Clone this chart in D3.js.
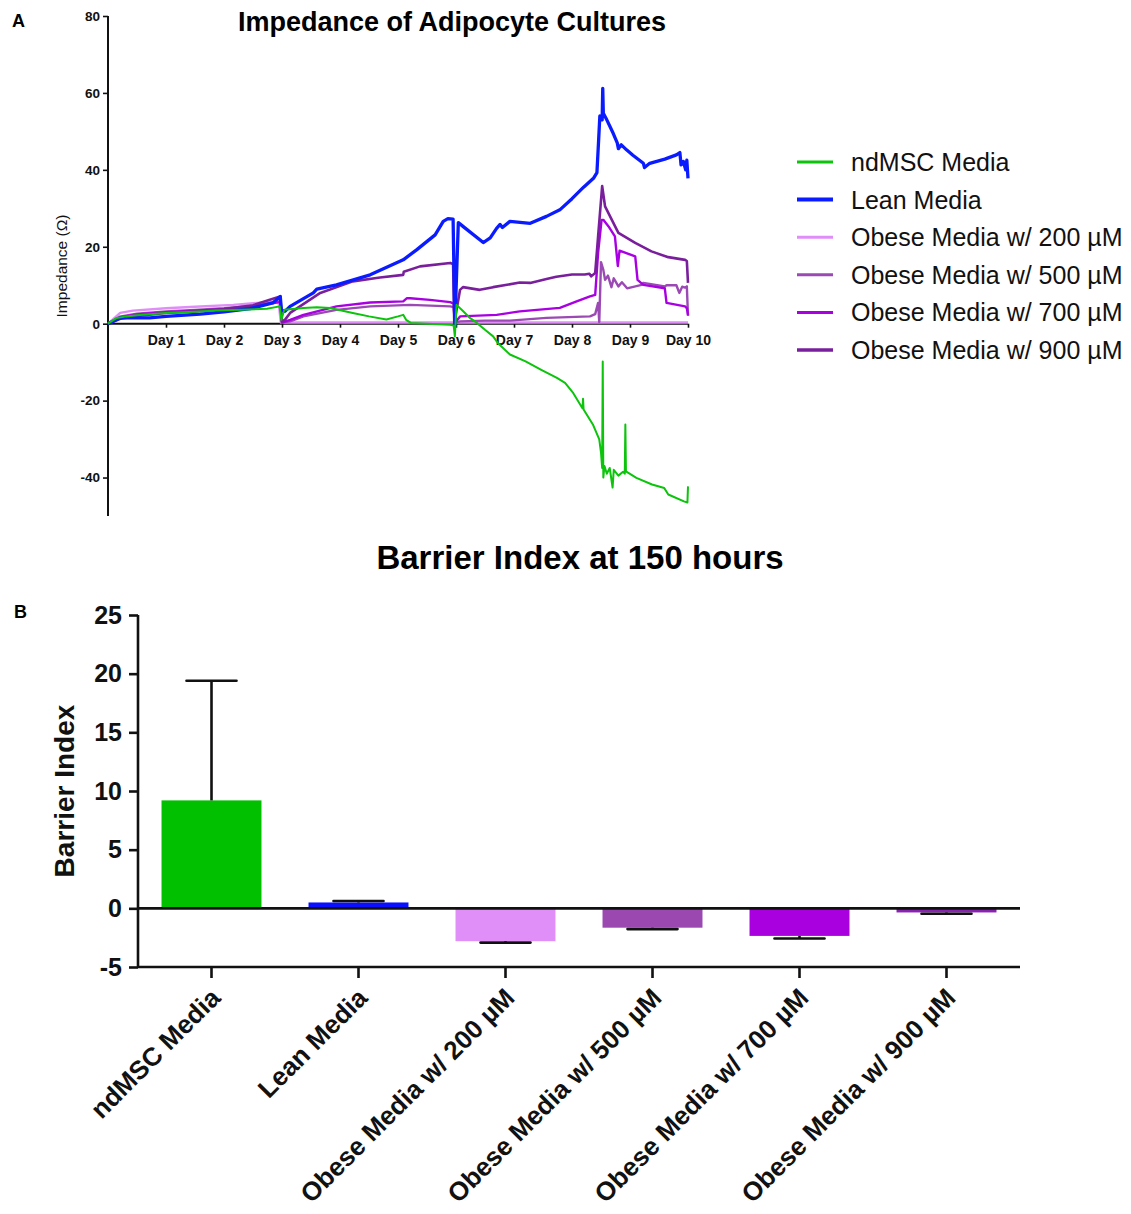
<!DOCTYPE html>
<html>
<head>
<meta charset="utf-8">
<script src="https://cdn.jsdelivr.net/npm/d3@7/dist/d3.min.js"></script>
<style>
  html, body { margin: 0; padding: 0; background: #fff; }
  svg { display: block; font-family: "Liberation Sans", Arial, Helvetica, sans-serif; }
</style>
</head>
<body>
<svg id="fig" width="1131" height="1214"></svg>
<script>
// ---------- Panel A: impedance time courses (day, ohms) ----------
const seriesNames = [
  "ndMSC Media", "Lean Media", "Obese Media w/ 200 µM",
  "Obese Media w/ 500 µM", "Obese Media w/ 700 µM", "Obese Media w/ 900 µM"
];
const seriesColors = ["#0bc40b", "#0a1cff", "#e08ef7", "#9b4ab3", "#a900e3", "#7a1f9c"];

const dayTicks = [1, 2, 3, 4, 5, 6, 7, 8, 9, 10];
const dayLabels = ["Day 1", "Day 2", "Day 3", "Day 4", "Day 5", "Day 6", "Day 7", "Day 8", "Day 9", "Day 10"];
const impedanceTicks = [-40, -20, 0, 20, 40, 60, 80];

const ndmscImpedance = [
  [0,0],[0.15,1.5],[0.32,1.9],[0.5,2.2],[1.0,2.8],[1.5,3.1],[1.86,3.4],[2.3,3.6],[2.74,3.9],[2.96,4.5],
  [2.99,1.0],[3.04,3.6],[3.37,4.1],[3.6,4.3],[3.83,4.1],[4.22,2.8],[4.5,1.9],[4.8,1.1],[5.0,1.9],[5.09,2.3],
  [5.14,1.0],[5.22,0.2],[5.5,0.0],[5.9,-0.3],[5.96,-0.5],[5.98,-3.3],[6.01,4.9],[6.12,3.3],[6.24,1.5],[6.36,0.2],
  [6.5,-1.6],[6.64,-3.3],[6.72,-5.0],[6.93,-8.0],[7.2,-9.8],[7.47,-12.0],[7.74,-14.1],[7.88,-15.4],[8.02,-18.0],
  [8.18,-22.0],[8.19,-19.5],[8.2,-22.3],[8.36,-26.2],[8.47,-30.1],[8.5,-33.5],[8.52,-37.5],[8.53,-9.8],[8.54,-40.0],
  [8.56,-37.0],[8.6,-39.0],[8.65,-37.5],[8.7,-42.6],[8.72,-38.0],[8.8,-39.5],[8.88,-38.5],[8.91,-39.0],[8.92,-26.2],
  [8.93,-38.4],[9.11,-40.1],[9.38,-41.8],[9.59,-42.7],[9.66,-44.4],[9.93,-46.2],[9.99,-46.5],[10,-42.3]
];
const leanImpedance = [
  [0,0],[0.21,1.5],[0.72,1.5],[1.0,1.9],[1.59,2.5],[2.0,3.1],[2.45,3.9],[2.84,5.4],[2.97,7.1],[2.99,3.6],
  [3.05,3.2],[3.14,4.5],[3.54,8.0],[3.6,9.0],[3.94,10.1],[4.52,12.7],[5.09,16.6],[5.32,19.2],[5.64,23.1],[5.78,26.6],
  [5.86,27.3],[5.95,27.2],[5.98,-0.7],[6.04,26.3],[6.12,25.3],[6.47,21.1],[6.59,22.3],[6.7,24.8],[6.76,25.8],[6.8,25.0],
  [6.93,26.6],[7.28,26.1],[7.56,27.9],[7.79,29.6],[8.0,32.5],[8.2,35.5],[8.37,37.8],[8.43,39.3],[8.46,48.0],[8.48,54.0],
  [8.52,53.0],[8.53,61.2],[8.54,54.7],[8.6,53.0],[8.71,49.5],[8.78,47.0],[8.8,45.5],[8.85,46.5],[8.94,45.2],[9.05,43.8],
  [9.23,41.7],[9.25,40.6],[9.34,41.7],[9.6,42.8],[9.8,43.9],[9.86,44.5],[9.88,41.3],[9.92,42.2],[9.96,40.0],[9.98,42.5],[10,37.8]
];
const obese200Impedance = [
  [0,0],[0.21,2.8],[0.43,3.4],[1.0,4.0],[1.5,4.4],[2.16,4.9],[2.74,5.6],[2.94,5.8],[2.98,0.3],[5.0,0.3],[8.0,0.3],[10,0.3]
];
const obese500Impedance = [
  [0,0],[0.2,1.8],[0.5,2.6],[1.0,3.2],[1.5,3.6],[2.0,4.0],[2.5,4.6],[2.8,5.4],[2.97,5.8],[3.0,0.3],
  [3.14,0.6],[3.37,1.9],[3.94,3.6],[4.52,4.5],[5.21,4.9],[5.9,4.5],[5.96,4.3],[5.98,0.2],[6.07,0.6],[6.5,0.8],
  [6.93,0.8],[7.56,1.5],[8.31,1.9],[8.4,2.5],[8.45,5.4],[8.47,0.4],[8.5,16.0],[8.54,14.0],[8.57,11.4],[8.62,12.5],
  [8.68,9.5],[8.72,11.8],[8.8,9.7],[8.86,10.8],[8.95,9.2],[9.2,10.1],[9.23,10.6],[9.6,9.7],[9.63,10.0],[9.8,10.0],
  [9.85,8.0],[9.9,9.6],[9.95,9.4],[9.98,9.7],[10,2.0]
];
const obese700Impedance = [
  [0,0],[0.2,1.6],[0.5,2.4],[1.0,3.0],[1.5,3.4],[2.0,3.8],[2.5,4.4],[2.8,5.2],[2.97,5.6],[3.0,0.3],
  [3.14,1.0],[3.37,2.3],[3.94,4.5],[4.52,5.5],[5.09,5.8],[5.15,6.6],[5.21,6.6],[5.55,6.2],[5.9,5.6],[5.96,5.2],
  [5.98,0.2],[6.07,1.9],[6.7,2.3],[7.1,3.2],[7.79,4.1],[8.08,5.8],[8.31,7.1],[8.4,7.5],[8.45,18.4],[8.51,27.0],
  [8.54,27.0],[8.63,25.3],[8.74,22.7],[8.79,15.0],[8.82,19.0],[9.09,17.5],[9.13,11.4],[9.23,10.1],[9.6,9.2],[9.63,5.4],
  [9.95,4.5],[9.98,4.0],[10,2.3]
];
const obese900Impedance = [
  [0,0],[0.2,1.2],[0.5,2.0],[1.0,2.8],[1.5,3.2],[2.0,3.8],[2.5,4.8],[2.79,6.2],[2.97,7.1],[3.0,0.5],
  [3.05,1.0],[3.14,2.8],[3.66,8.0],[4.22,11.0],[4.69,12.0],[5.09,12.7],[5.1,13.5],[5.38,14.9],[5.9,15.8],[5.95,15.5],
  [5.97,0.2],[6.07,8.8],[6.12,9.5],[6.41,8.8],[6.64,9.5],[7.1,10.7],[7.28,10.6],[7.56,11.6],[7.73,12.2],[8.0,12.8],
  [8.22,12.8],[8.3,13.0],[8.33,12.3],[8.4,13.2],[8.45,22.7],[8.51,33.9],[8.52,35.8],[8.57,30.5],[8.8,23.6],[9.09,21.0],
  [9.37,18.8],[9.66,17.3],[9.95,16.6],[9.98,16.3],[10,10.6]
];

// ---------- Panel B: barrier index at 150 h ----------
const barCategories = seriesNames;
const barMeans = [9.2, 0.5, -2.8, -1.65, -2.35, -0.35];
const barErrors = [10.2, 0.12, 0.12, 0.12, 0.22, 0.11];
const barColors = ["#00c000", "#0a10ff", "#df8ff7", "#9b48b1", "#a900e0", "#8a22b2"];
const barTicks = [-5, 0, 5, 10, 15, 20, 25];

const svg = d3.select("#fig");
const ink = "#111";
const plainNumber = d => String(d);   // hyphen-minus for negatives

// ======================= Panel A =======================
const xA = d3.scaleLinear().domain([0, 10]).range([108, 688]);
const yA = d3.scaleLinear().domain([-50, 80]).range([516, 16]);

svg.append("text").attr("x", 12).attr("y", 27).attr("font-size", 18).attr("font-weight", "bold").text("A");

svg.append("text")
  .attr("x", 452).attr("y", 31)
  .attr("text-anchor", "middle").attr("font-size", 27).attr("font-weight", "bold")
  .text("Impedance of Adipocyte Cultures");

// y axis
const yAxisA = svg.append("g").attr("transform", `translate(${xA(0)},0)`)
  .call(d3.axisLeft(yA).tickValues(impedanceTicks).tickSize(5).tickPadding(3).tickFormat(plainNumber));
yAxisA.select(".domain").attr("stroke", ink).attr("stroke-width", 2).attr("d", `M0,${yA(80)}V${yA(-50)}`);
yAxisA.selectAll(".tick line").attr("stroke", ink).attr("stroke-width", 1.6);
yAxisA.selectAll(".tick text").attr("font-size", 13.5).attr("font-weight", "bold").attr("fill", ink)
  .attr("font-family", "Liberation Sans, Arial, sans-serif");

// x axis at zero
const xAxisA = svg.append("g").attr("transform", `translate(0,${yA(0)})`)
  .call(d3.axisBottom(xA).tickValues(dayTicks).tickSize(4).tickPadding(7).tickFormat((d, i) => dayLabels[i]));
xAxisA.select(".domain").attr("stroke", ink).attr("stroke-width", 2).attr("d", `M${xA(0)},0H${xA(10)}`);
xAxisA.selectAll(".tick line").attr("stroke", ink).attr("stroke-width", 1.6);
xAxisA.selectAll(".tick text").attr("font-size", 14).attr("font-weight", "bold").attr("fill", ink)
  .attr("font-family", "Liberation Sans, Arial, sans-serif");

svg.append("text")
  .attr("transform", `translate(67,${266}) rotate(-90)`)
  .attr("text-anchor", "middle").attr("font-size", 15.5).attr("fill", ink)
  .text("Impedance (Ω)");

const line = d3.line().x(d => xA(d[0])).y(d => yA(d[1]));
const traces = [
  { data: obese200Impedance, idx: 2, w: 2.4 },
  { data: obese500Impedance, idx: 3, w: 2.4 },
  { data: obese700Impedance, idx: 4, w: 2.4 },
  { data: obese900Impedance, idx: 5, w: 2.6 },
  { data: leanImpedance, idx: 1, w: 3.3 },
  { data: ndmscImpedance, idx: 0, w: 2 }
];
svg.append("g").selectAll("path").data(traces).join("path")
  .attr("d", d => line(d.data))
  .attr("fill", "none")
  .attr("stroke", d => seriesColors[d.idx])
  .attr("stroke-width", d => d.w)
  .attr("stroke-linejoin", "round");

// legend
const legendRowY = d3.scalePoint().domain(d3.range(seriesNames.length)).range([162, 350]);
const legend = svg.append("g");
const legendWidths = [3, 4, 3, 3, 3, 3.5];
seriesNames.forEach((name, i) => {
  const y = legendRowY(i);
  legend.append("line").attr("x1", 797).attr("x2", 833).attr("y1", y).attr("y2", y)
    .attr("stroke", seriesColors[i]).attr("stroke-width", legendWidths[i]);
  legend.append("text").attr("x", 851).attr("y", y).attr("dy", "0.36em")
    .attr("font-size", 25).attr("fill", ink).text(name);
});

// ======================= Panel B =======================
const xB = d3.scaleBand().domain(barCategories).range([138, 1020]).paddingInner(0.32).paddingOuter(0.16);
const yB = d3.scaleLinear().domain([-5, 25]).range([967, 615]);

svg.append("text").attr("x", 14).attr("y", 618).attr("font-size", 18).attr("font-weight", "bold").text("B");

svg.append("text")
  .attr("x", 580).attr("y", 569)
  .attr("text-anchor", "middle").attr("font-size", 33).attr("font-weight", "bold")
  .text("Barrier Index at 150 hours");

// bars
svg.append("g").selectAll("rect").data(barMeans).join("rect")
  .attr("x", (d, i) => xB(barCategories[i]))
  .attr("width", xB.bandwidth())
  .attr("y", d => yB(Math.max(0, d)))
  .attr("height", d => Math.abs(yB(d) - yB(0)))
  .attr("fill", (d, i) => barColors[i]);

// one-sided error bars
const capW = 50;
const errG = svg.append("g").attr("stroke", ink).attr("stroke-width", 2.6);
barMeans.forEach((m, i) => {
  const cx = xB(barCategories[i]) + xB.bandwidth() / 2;
  const end = m >= 0 ? m + barErrors[i] : m - barErrors[i];
  errG.append("line").attr("x1", cx).attr("x2", cx).attr("y1", yB(m)).attr("y2", yB(end));
  errG.append("line").attr("x1", cx - capW / 2).attr("x2", cx + capW / 2).attr("y1", yB(end)).attr("y2", yB(end))
    .attr("stroke-linecap", "round");
});

// zero line
svg.append("line").attr("x1", 138).attr("x2", 1020).attr("y1", yB(0)).attr("y2", yB(0))
  .attr("stroke", ink).attr("stroke-width", 2.6);

// y axis
const yAxisB = svg.append("g").attr("transform", "translate(138,0)")
  .call(d3.axisLeft(yB).tickValues(barTicks).tickSize(9).tickPadding(7).tickFormat(plainNumber));
yAxisB.select(".domain").attr("stroke", ink).attr("stroke-width", 2.6).attr("d", `M0,${yB(25)}V${yB(-5)}`);
yAxisB.selectAll(".tick line").attr("stroke", ink).attr("stroke-width", 2.6);
yAxisB.selectAll(".tick text").attr("font-size", 25).attr("font-weight", "bold").attr("fill", ink)
  .attr("font-family", "Liberation Sans, Arial, sans-serif");

// bottom axis
const xAxisB = svg.append("g").attr("transform", `translate(0,${yB(-5)})`)
  .call(d3.axisBottom(xB).tickSize(11).tickFormat(""));
xAxisB.select(".domain").attr("stroke", ink).attr("stroke-width", 2.6).attr("d", "M138,0H1020");
xAxisB.selectAll(".tick line").attr("stroke", ink).attr("stroke-width", 2.6);

svg.append("g").selectAll("text").data(barCategories).join("text")
  .attr("transform", d => `translate(${xB(d) + xB.bandwidth() / 2 + 4},${993}) rotate(-45)`)
  .attr("text-anchor", "end").attr("dy", "0.35em")
  .attr("font-size", 26).attr("font-weight", "bold").attr("fill", ink)
  .text(d => d);

svg.append("text")
  .attr("transform", "translate(74,791) rotate(-90)")
  .attr("text-anchor", "middle").attr("font-size", 28).attr("font-weight", "bold").attr("fill", ink)
  .text("Barrier Index");
</script>
</body>
</html>
